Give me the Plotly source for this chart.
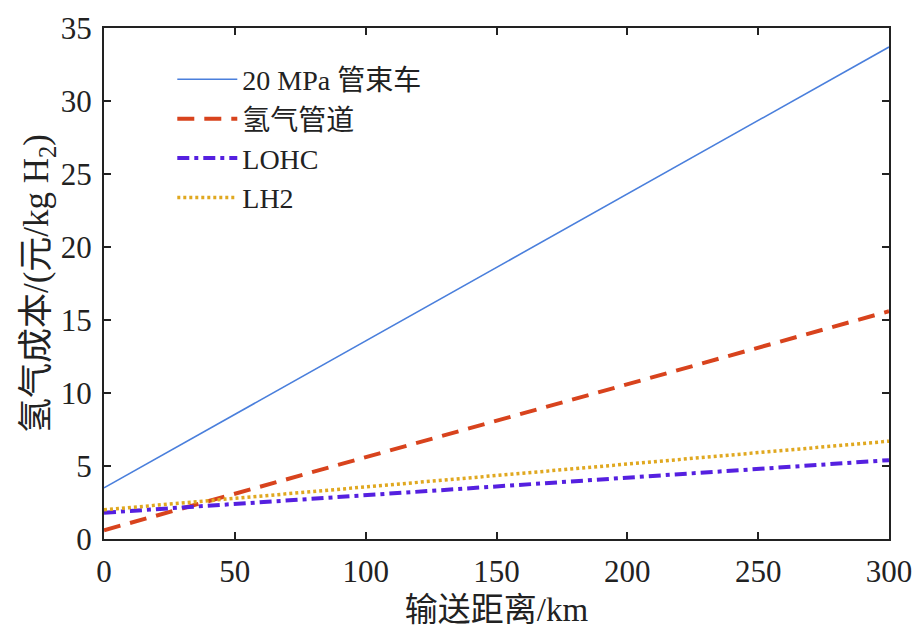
import plotly.graph_objects as go

# Data
distance_km = [0, 300]
tube_trailer_20mpa = [3.5, 33.7]
pipeline = [0.6, 15.6]
lohc = [1.8, 5.4]
lh2 = [2.0, 6.7]

series_names = ["20 MPa 管束车", "氢气管道", "LOHC", "LH2"]

x_ticks = [0, 50, 100, 150, 200, 250, 300]
y_ticks = [0, 5, 10, 15, 20, 25, 30, 35]

FONT = "Liberation Serif, Times New Roman, Noto Sans CJK SC, serif"

fig = go.Figure()
fig.add_trace(go.Scatter(x=distance_km, y=tube_trailer_20mpa, mode="lines", name=series_names[0],
                         line=dict(color="#4a7fdc", width=1.6)))
fig.add_trace(go.Scatter(x=distance_km, y=pipeline, mode="lines", name=series_names[1],
                         line=dict(color="#d8431d", width=4, dash="17px,10px")))
fig.add_trace(go.Scatter(x=distance_km, y=lohc, mode="lines", name=series_names[2],
                         line=dict(color="#5520e0", width=4, dash="12px,5px,4px,5px")))
fig.add_trace(go.Scatter(x=distance_km, y=lh2, mode="lines", name=series_names[3],
                         line=dict(color="#e0a820", width=3.5, dash="3px,3px")))

axis_common = dict(
    showline=True, linecolor="#222", linewidth=2, mirror="ticks",
    ticks="inside", ticklen=7, tickwidth=2, tickcolor="#222",
    showgrid=False, zeroline=False, automargin=False,
    tickfont=dict(family=FONT, size=31, color="#222"),
)

fig.update_layout(
    width=913, height=628,
    margin=dict(l=104, r=24, t=28, b=89),
    paper_bgcolor="white", plot_bgcolor="white",
    font=dict(family=FONT, color="#222"),
    xaxis=dict(range=[0, 300], tickvals=x_ticks, ticklabelstandoff=4,
               title=dict(text="输送距离/km", font=dict(family=FONT, size=33, color="#222"), standoff=11),
               **axis_common),
    yaxis=dict(range=[0, 35], tickvals=y_ticks, ticklabelstandoff=4,
               title=dict(text="氢气成本/(元/kg H<sub>2</sub>)", font=dict(family=FONT, size=35, color="#222"), standoff=0),
               **axis_common),
    legend=dict(x=0.087, y=0.948, xanchor="left", yanchor="top",
                bgcolor="rgba(0,0,0,0)", borderwidth=0, itemwidth=60,
                font=dict(family=FONT, size=28, color="#222"),
                tracegroupgap=0),
    showlegend=True,
)

fig.write_html("out.html")
